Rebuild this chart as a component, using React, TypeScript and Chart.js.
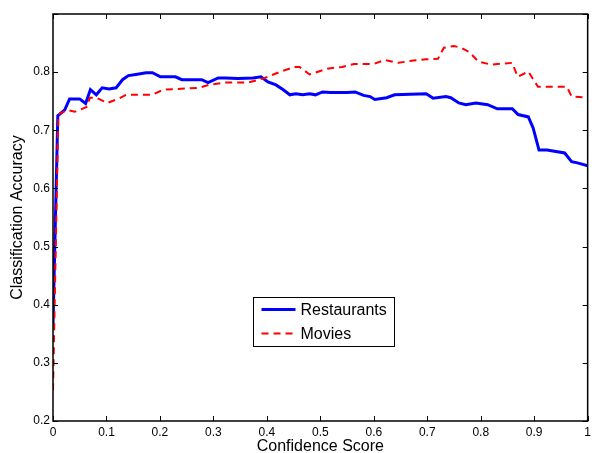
import React, { useEffect, useRef } from 'react';
import { Chart, registerables } from 'chart.js';

Chart.register(...registerables);

// ---- data ----
const seriesNames = ['Restaurants', 'Movies'];

const restaurantsConfidence = [
  0, 0.009, 0.022, 0.031, 0.05, 0.061, 0.07, 0.081, 0.092, 0.105, 0.118, 0.13, 0.141, 0.155,
  0.174, 0.186, 0.201, 0.229, 0.241, 0.278, 0.29, 0.309, 0.322, 0.346, 0.374, 0.389, 0.402,
  0.417, 0.43, 0.443, 0.454, 0.467, 0.48, 0.491, 0.504, 0.519, 0.55, 0.565, 0.581, 0.593,
  0.602, 0.624, 0.639, 0.698, 0.711, 0.735, 0.744, 0.759, 0.772, 0.791, 0.813, 0.831, 0.859,
  0.87, 0.889, 0.898, 0.909, 0.924, 0.957, 0.97, 0.981, 1.0,
];
const restaurantsAccuracy = [
  0.365, 0.725, 0.735, 0.754, 0.754, 0.746, 0.77, 0.761, 0.773, 0.771, 0.773, 0.787, 0.794, 0.796,
  0.799, 0.799, 0.792, 0.792, 0.787, 0.787, 0.782, 0.79, 0.79, 0.789, 0.79, 0.792, 0.783,
  0.778, 0.77, 0.761, 0.763, 0.761, 0.763, 0.761, 0.766, 0.765, 0.765, 0.766, 0.76, 0.758,
  0.753, 0.756, 0.761, 0.763, 0.755, 0.758, 0.756, 0.747, 0.744, 0.747, 0.744, 0.737, 0.737,
  0.727, 0.723, 0.704, 0.666, 0.666, 0.661, 0.646, 0.644, 0.639,
];

const moviesConfidence = [
  0, 0.01, 0.026, 0.041, 0.063, 0.069, 0.081, 0.102, 0.124, 0.137, 0.185, 0.207, 0.272, 0.291,
  0.322, 0.365, 0.396, 0.426, 0.452, 0.461, 0.48, 0.513, 0.541, 0.563, 0.6, 0.62, 0.646, 0.674,
  0.698, 0.72, 0.731, 0.75, 0.763, 0.778, 0.796, 0.819, 0.859, 0.869, 0.889, 0.907, 0.961,
  0.97, 1.0,
];
const moviesAccuracy = [
  0.253, 0.727, 0.735, 0.732, 0.74, 0.756, 0.756, 0.747, 0.755, 0.761, 0.761, 0.77, 0.773, 0.778,
  0.782, 0.782, 0.79, 0.801, 0.809, 0.809, 0.796, 0.806, 0.809, 0.814, 0.814, 0.821, 0.816, 0.82,
  0.822, 0.823, 0.842, 0.845, 0.842, 0.835, 0.818, 0.813, 0.816, 0.792, 0.801, 0.775, 0.775,
  0.758, 0.756,
];

const xTickLabels = ['0', '0.1', '0.2', '0.3', '0.4', '0.5', '0.6', '0.7', '0.8', '0.9', '1'];
const yTickLabels = ['0.2', '0.3', '0.4', '0.5', '0.6', '0.7', '0.8', ''];
const xAxisTitle = 'Confidence Score';
const yAxisTitle = 'Classification Accuracy';

const FONT = "'Liberation Sans', Arial, Helvetica, sans-serif";

const toPoints = (xs: number[], ys: number[]) => xs.map((x, i) => ({ x, y: ys[i] }));

const framePlugin = {
  id: 'matlabFrame',
  afterDraw(chart: any) {
    const { ctx, chartArea: a, scales } = chart;
    const xs = scales.x;
    const ys = scales.y;
    ctx.save();
    ctx.strokeStyle = '#000';
    ctx.lineWidth = 1;
    ctx.beginPath();
    const tl = 5;
    xs.ticks.forEach((t: any) => {
      const px = Math.round(xs.getPixelForValue(t.value)) + 0.5;
      ctx.moveTo(px, a.bottom);
      ctx.lineTo(px, a.bottom - tl);
      ctx.moveTo(px, a.top);
      ctx.lineTo(px, a.top + tl);
    });
    ys.ticks.forEach((t: any) => {
      const py = Math.round(ys.getPixelForValue(t.value)) + 0.5;
      ctx.moveTo(a.left, py);
      ctx.lineTo(a.left + tl, py);
      ctx.moveTo(a.right, py);
      ctx.lineTo(a.right - tl, py);
    });
    ctx.stroke();
    ctx.lineWidth = 1.5;
    ctx.strokeRect(a.left, a.top, a.right - a.left, a.bottom - a.top);

    // legend box
    const bx = a.left + 200.5;
    const by = a.top + 283.5;
    const bw = 141;
    const bh = 49;
    ctx.fillStyle = '#fff';
    ctx.fillRect(bx, by, bw, bh);
    ctx.lineWidth = 1;
    ctx.strokeRect(bx, by, bw, bh);
    ctx.font = `16px ${FONT}`;
    ctx.textBaseline = 'middle';
    ctx.textAlign = 'left';
    chart.data.datasets.forEach((ds: any, i: number) => {
      const cy = by + 12 + i * 24;
      ctx.save();
      ctx.strokeStyle = ds.borderColor;
      ctx.lineWidth = ds.borderWidth;
      ctx.setLineDash(ds.borderDash || []);
      ctx.beginPath();
      ctx.moveTo(bx + 8, cy);
      ctx.lineTo(bx + 42, cy);
      ctx.stroke();
      ctx.restore();
      ctx.fillStyle = '#000';
      ctx.fillText(ds.label, bx + 47, cy + 1);
    });
    ctx.restore();
  },
};

export default function App() {
  const ref = useRef<HTMLCanvasElement | null>(null);

  useEffect(() => {
    if (!ref.current) return;
    const chart = new Chart(ref.current, {
      type: 'line',
      data: {
        datasets: [
          {
            label: seriesNames[0],
            data: toPoints(restaurantsConfidence, restaurantsAccuracy),
            borderColor: '#0000ff',
            borderWidth: 3,
            pointRadius: 0,
            tension: 0,
            fill: false,
            order: 1,
          },
          {
            label: seriesNames[1],
            data: toPoints(moviesConfidence, moviesAccuracy),
            borderColor: '#ff0000',
            borderWidth: 2,
            borderDash: [7, 5],
            pointRadius: 0,
            tension: 0,
            fill: false,
            order: 0,
          },
        ],
      },
      options: {
        animation: false,
        responsive: true,
        maintainAspectRatio: false,
        layout: { padding: { left: 0, right: 2, top: 14, bottom: 0 } },
        plugins: {
          legend: { display: false },
          tooltip: { enabled: false },
          title: { display: false },
        },
        scales: {
          x: {
            type: 'linear',
            min: 0,
            max: 1,
            grid: { display: false, drawTicks: false },
            border: { display: false },
            ticks: {
              stepSize: 0.1,
              autoSkip: false,
              maxRotation: 0,
              padding: 4,
              color: '#000',
              font: { family: FONT, size: 12 },
              callback: (_v: any, i: number) => xTickLabels[i] ?? '',
            },
            title: {
              display: true,
              text: xAxisTitle,
              color: '#000',
              font: { family: FONT, size: 16 },
              padding: { top: 0, bottom: -3.6 },
            },
            afterFit: (s: any) => {
              s.height = 32;
            },
          },
          y: {
            type: 'linear',
            min: 0.2,
            max: 0.9,
            grid: { display: false, drawTicks: false },
            border: { display: false },
            ticks: {
              stepSize: 0.1,
              autoSkip: false,
              padding: 3,
              color: '#000',
              font: { family: FONT, size: 12 },
              callback: (_v: any, i: number) => yTickLabels[i] ?? '',
            },
            title: {
              display: true,
              text: yAxisTitle,
              color: '#000',
              font: { family: FONT, size: 16 },
              padding: { top: 8.4, bottom: 0 },
            },
            afterFit: (s: any) => {
              s.width = 53;
            },
          },
        },
      },
      plugins: [framePlugin],
    });
    return () => chart.destroy();
  }, []);

  return (
    <div style={{ position: 'absolute', left: 0, top: 0, width: 595, height: 453, background: '#fff' }}>
      <canvas ref={ref} />
    </div>
  );
}
